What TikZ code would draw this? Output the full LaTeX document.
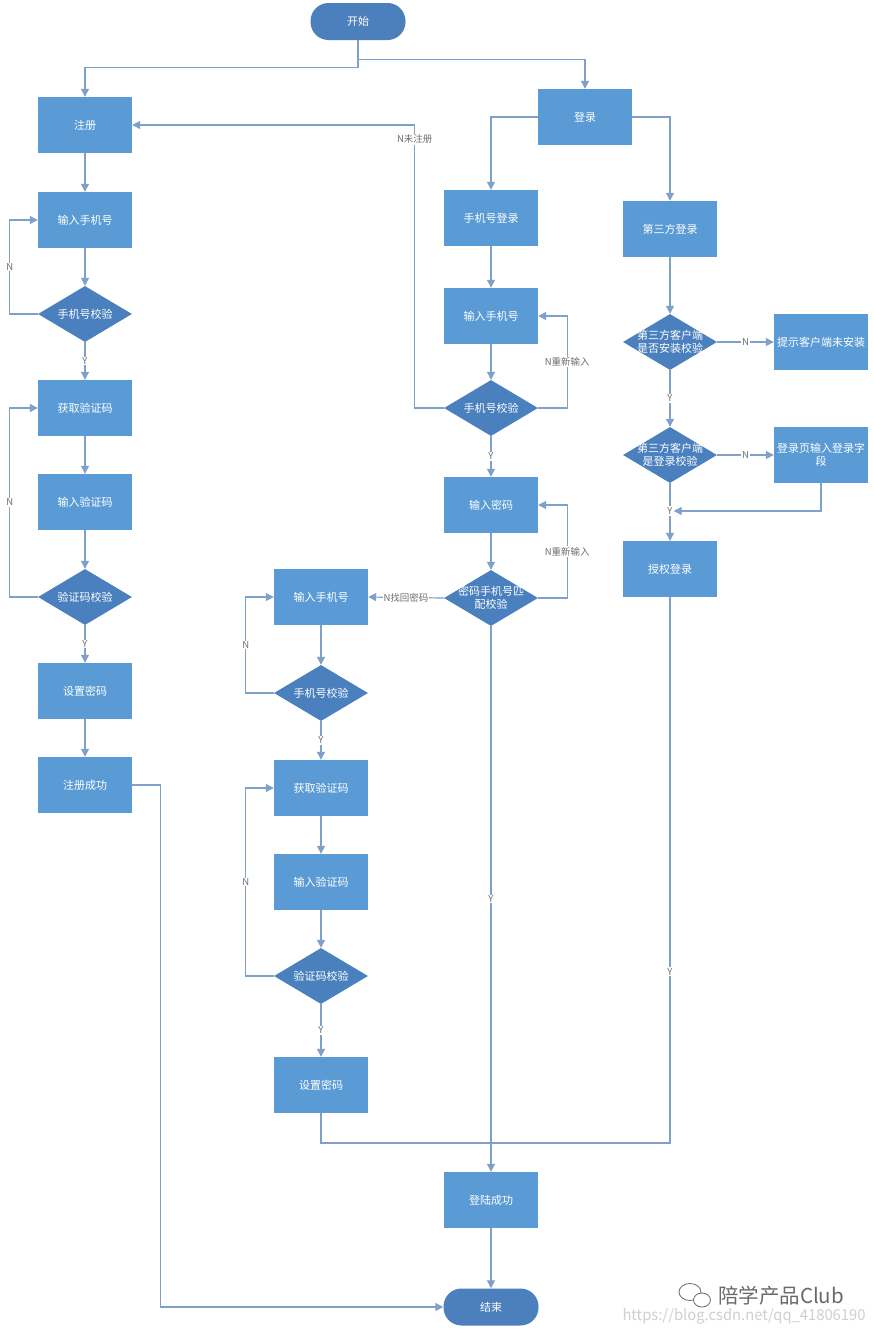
\documentclass[tikz,border=0pt]{standalone}
\usepackage{fontspec}
\usepackage{graphicx}
\setmainfont{Noto Sans CJK SC}
\usetikzlibrary{arrows.meta,shapes.geometric}
\definecolor{boxblue}{HTML}{5B9BD5}
\definecolor{diablue}{HTML}{4A80BE}
\definecolor{termblue}{HTML}{4C80BD}
\definecolor{lineblue}{HTML}{7FA0C8}
\definecolor{lblgray}{HTML}{6E6E6E}
\definecolor{wmgray}{HTML}{6A6A6A}
\definecolor{urlgray}{HTML}{CFCFCF}
\begin{document}
\begin{tikzpicture}[x=1pt,y=-1pt,
  box/.style={rectangle, fill=boxblue, minimum width=94pt, minimum height=56pt, inner sep=2pt, text width=90pt, align=center, text=white, font=\fontsize{11}{13.5}\selectfont},
  dia/.style={diamond, fill=diablue, minimum width=94pt, minimum height=56pt, inner sep=0pt, aspect=1.68},
  dtxt/.style={text=white, font=\fontsize{11}{13.5}\selectfont, align=center, inner sep=0pt},
  term/.style={rectangle, rounded corners=18pt, fill=termblue, minimum width=95pt, minimum height=37pt, text=white, font=\fontsize{11}{13.5}\selectfont},
  line/.style={draw=lineblue, line width=1.2pt},
  arr/.style={line, -{Triangle[length=8pt,width=8pt]}},
  lbl/.style={fill=white, text=lblgray, font=\fontsize{9.5}{11}\selectfont, inner sep=1pt},
]
\useasboundingbox[fill=white] (0,0) rectangle (874,1334);

% ---- nodes ----
\node[term] (start) at (358,21.5) {开始};
% left column
\node[box] (reg) at (85,125) {注册};
\node[box] (lin1) at (85,220) {输入手机号};
\node[dia, label={[dtxt]center:手机号校验}] (lchk1) at (85,314) {};
\node[box] (lget) at (85,408) {获取验证码};
\node[box] (lvin) at (85,502) {输入验证码};
\node[dia, label={[dtxt]center:验证码校验}] (lchk2) at (85,597) {};
\node[box] (lset) at (85,691) {设置密码};
\node[box] (regok) at (85,785) {注册成功};
% middle column
\node[box] (login) at (585,117) {登录};
\node[box] (plogin) at (491,218) {手机号登录};
\node[box] (min) at (491,316) {输入手机号};
\node[dia, label={[dtxt]center:手机号校验}] (mchk) at (491,408) {};
\node[box] (pwd) at (491,505) {输入密码};
\node[dia, label={[dtxt]center:{密码手机号匹\\配校验}}] (pchk) at (491,598) {};
% forgot-password column
\node[box] (fin) at (321,597) {输入手机号};
\node[dia, label={[dtxt]center:手机号校验}] (lchk3) at (321,693) {};
\node[box] (fget) at (321,788) {获取验证码};
\node[box] (fvin) at (321,882) {输入验证码};
\node[dia, label={[dtxt]center:验证码校验}] (lchk4) at (321,976) {};
\node[box] (fset) at (321,1085) {设置密码};
% right column
\node[box] (third) at (670,229) {第三方登录};
\node[dia, label={[dtxt]center:{第三方客户端\\是否安装校验}}] (tchk1) at (670,342) {};
\node[box] (tip) at (821,342) {提示客户端未安装};
\node[dia, label={[dtxt]center:{第三方客户端\\是登录校验}}] (tchk2) at (670,455) {};
\node[box] (lpage) at (821,455) {登录页输入登录字\\段};
\node[lbl] (yl) at (670,511) {Y};
\node[box] (auth) at (670,569) {授权登录};
% bottom
\node[box] (succ) at (491,1200) {登陆成功};
\node[term] (end) at (491,1307) {结束};
\coordinate (mrg) at (491,1143);

% ---- connectors ----
\draw[arr] (start.south) -- ++(0,27.5) -| (reg.north);
\draw[arr] (start.south) -- ++(0,19.5) -| (login.north);
\draw[arr] (reg) -- (lin1);
\draw[arr] (lin1) -- (lchk1);
\draw[arr] (lchk1) -- node[lbl]{Y} (lget);
\draw[arr] (lget) -- (lvin);
\draw[arr] (lvin) -- (lchk2);
\draw[arr] (lchk2) -- node[lbl]{Y} (lset);
\draw[arr] (lset) -- (regok);
\draw[arr] (lchk1.west) -- ++(-28,0) |- node[lbl,pos=0.25]{N} (lin1.west);
\draw[arr] (lchk2.west) -- ++(-28,0) |- node[lbl,pos=0.25]{N} (lget.west);

\draw[arr] (login.west) -| (plogin.north);
\draw[arr] (login.east) -| (third.north);
\draw[arr] (plogin) -- (min);
\draw[arr] (min) -- (mchk);
\draw[arr] (mchk) -- node[lbl]{Y} (pwd);
\draw[arr] (pwd) -- (pchk);
\draw[arr] (mchk.east) -- ++(29,0) |- node[lbl,pos=0.25]{N重新输入} (min.east);
\draw[arr] (pchk.east) -- ++(29,0) |- node[lbl,pos=0.25]{N重新输入} (pwd.east);
\draw[arr] (mchk.west) -- ++(-29,0) |- node[lbl,pos=0.475]{N未注册} (reg.east);
\draw[arr] (pchk.west) -- node[lbl]{N找回密码} (fin.east);

\draw[arr] (fin) -- (lchk3);
\draw[arr] (lchk3) -- node[lbl]{Y} (fget);
\draw[arr] (fget) -- (fvin);
\draw[arr] (fvin) -- (lchk4);
\draw[arr] (lchk4) -- node[lbl]{Y} (fset);
\draw[arr] (lchk3.west) -- ++(-28,0) |- node[lbl,pos=0.25]{N} (fin.west);
\draw[arr] (lchk4.west) -- ++(-28,0) |- node[lbl,pos=0.25]{N} (fget.west);

\draw[arr] (third) -- (tchk1);
\draw[arr] (tchk1) -- node[lbl]{N} (tip);
\draw[arr] (tchk1) -- node[lbl]{Y} (tchk2);
\draw[arr] (tchk2) -- node[lbl]{N} (lpage);
\draw[line] (tchk2) -- (yl);
\draw[arr] (yl) -- (auth);
\draw[arr] (lpage.south) |- (yl.east);

\draw[arr] (pchk) -- node[lbl,pos=0.5]{Y} (succ);
\draw[line] (auth.south) |- node[lbl,pos=0.343]{Y} (mrg);
\draw[line] (fset.south) |- (mrg);
\draw[arr] (succ) -- (end);
\draw[arr] (regok.east) -- ++(28,0) |- (end.west);

% ---- watermark ----
\draw[wmgray, line width=0.8pt] (690,1292) ellipse (11 and 8.5);
\draw[wmgray, line width=0.8pt, fill=white] (702,1300) ellipse (8.5 and 7);
\node[text=wmgray, font=\fontsize{20.5}{24}\selectfont, inner sep=0pt] (wm) at (781,1296) {陪学产品Club};
\node[text=urlgray, inner sep=0pt] (url) at (744,1316) {\resizebox{243pt}{12pt}{https://blog.csdn.net/qq\_41806190}};
\end{tikzpicture}
\end{document}
